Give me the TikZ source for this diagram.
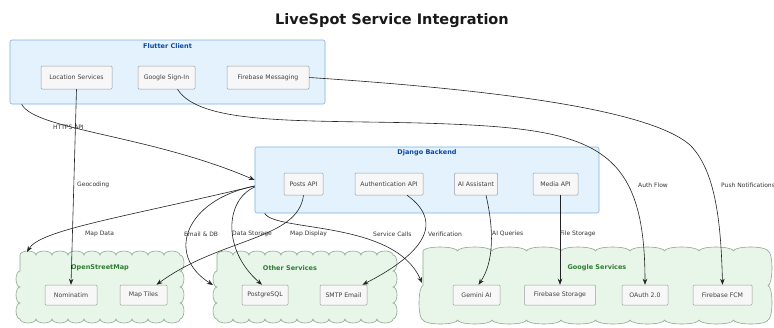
\documentclass[tikz,border=0pt]{standalone}
\usepackage{fontspec}
\setmainfont{DejaVu Sans}
\usetikzlibrary{arrows.meta,decorations.pathmorphing,calc}
\definecolor{clfill}{HTML}{E3F2FD}
\definecolor{cldraw}{HTML}{7FB3E6}
\definecolor{cltext}{HTML}{0D47A1}
\definecolor{ndfill}{HTML}{F7F7F7}
\definecolor{nddraw}{HTML}{9E9E9E}
\definecolor{cdfill}{HTML}{E8F5E9}
\definecolor{cddraw}{HTML}{8FA88F}
\definecolor{cdtext}{HTML}{2E7D32}
\definecolor{edge}{HTML}{222222}
\tikzset{
  cluster/.style={draw=cldraw, fill=clfill, rounded corners=2pt, line width=0.6pt, inner sep=0pt},
  cltitle/.style={font=\fontsize{6.5}{7}\selectfont\bfseries, text=cltext, inner sep=0pt},
  cdtitle/.style={font=\fontsize{6.5}{7}\selectfont\bfseries, text=cdtext, inner sep=0pt},
  svc/.style={draw=nddraw, fill=ndfill, rounded corners=1pt, line width=0.5pt, minimum height=23pt, inner sep=0pt, font=\fontsize{6.2}{7}\selectfont, text=black!75},
  lowsvc/.style={svc, minimum height=20pt},
  cloudbox/.style={draw=cddraw, fill=cdfill, line width=0.6pt, decorate, decoration={bumps, segment length=#1, amplitude=4pt}},
  arr/.style={draw=edge, line width=0.6pt, -{Stealth[length=6pt,width=4.5pt]}},
  lbl/.style={font=\fontsize{6}{6.5}\selectfont, text=black!80, anchor=west, inner sep=0pt},
}
\begin{document}
\begin{tikzpicture}[x=1pt,y=-1pt]
\useasboundingbox (0,0) rectangle (774,327);
\fill[white] (0,0) rectangle (774,327);

\node[font=\fontsize{14.5}{16}\selectfont\bfseries, text=black!90] (title) at (392,21) {LiveSpot Service Integration};

% Flutter client
\node[cluster, minimum width=315pt, minimum height=64pt] (flutter) at (167.5,72) {};
\node[cltitle] (flutterT) at (167.5,46) {Flutter Client};
\node[svc, minimum width=71pt] (loc) at (76.5,77.5) {Location Services};
\node[svc, minimum width=57pt] (gsi) at (166.5,77.5) {Google Sign-In};
\node[svc, minimum width=82pt] (fm) at (268,77.5) {Firebase Messaging};

% Django backend
\node[cluster, minimum width=344pt, minimum height=66pt] (django) at (427,180) {};
\node[cltitle] (djangoT) at (427,153) {Django Backend};
\node[svc, minimum width=39pt, minimum height=22pt] (posts) at (303.5,184) {Posts API};
\node[svc, minimum width=68pt, minimum height=22pt] (auth) at (389,184) {Authentication API};
\node[svc, minimum width=43pt, minimum height=22pt] (ai) at (476,184) {AI Assistant};
\node[svc, minimum width=45pt, minimum height=22pt] (media) at (555.5,184) {Media API};

% clouds
\path[cloudbox=32pt] (20,255) -- (180,255) -- (180,319) -- (20,319) -- cycle;
\path[cloudbox=32pt] (217,255) -- (393,255) -- (393,319) -- (217,319) -- cycle;
\path[cloudbox=69pt] (423,251) -- (768,251) -- (768,320) -- (423,320) -- cycle;
\coordinate (osmnw) at (27,252);
\coordinate (otherw) at (213,285);
\coordinate (googw) at (422,283);

\node[cdtitle] (osmT) at (100,268) {OpenStreetMap};
\node[cdtitle] (otherT) at (290,268) {Other Services};
\node[cdtitle] (googT) at (597,268) {Google Services};

\node[lowsvc, minimum width=52pt] (nom) at (71,295) {Nominatim};
\node[lowsvc, minimum width=47pt] (tiles) at (143.5,295) {Map Tiles};
\node[lowsvc, minimum width=46pt] (pg) at (265,295) {PostgreSQL};
\node[lowsvc, minimum width=47pt] (smtp) at (343.5,295) {SMTP Email};
\node[lowsvc, minimum width=47pt] (gem) at (476.5,295) {Gemini AI};
\node[lowsvc, minimum width=71pt] (fs) at (560,295) {Firebase Storage};
\node[lowsvc, minimum width=46pt] (oauth) at (645,295) {OAuth 2.0};
\node[lowsvc, minimum width=59pt] (fcm) at (722.5,295) {Firebase FCM};

% edges
\draw[arr] ([xshift=12pt]flutter.south west) .. controls (35,130) and (150,135) .. (django.west);
\draw[arr] (loc.south) -- (nom.north);
\draw[arr] ([xshift=11pt]gsi.south) .. controls (200,125) and (300,120) .. (420,123) .. controls (590,128) and (645,140) .. (oauth.north);
\draw[arr] (fm.east) .. controls (500,90) and (650,110) .. (690,145) .. controls (715,170) and (721,220) .. (fcm.north);
\draw[arr] ($(django.west)+(0,6)$) .. controls (120,218) and (40,230) .. (osmnw);
\draw[arr] ($(django.west)+(0,6)$) .. controls (185,200) and (165,255) .. (otherw);
\draw[arr] ($(django.west)+(0,7)$) .. controls (225,200) and (222,250) .. ([xshift=-3pt]pg.north);
\draw[arr] (posts.south) .. controls (298,240) and (220,238) .. ([xshift=13pt]tiles.north);
\draw[arr] ([xshift=10pt]django.south west) .. controls (275,232) and (395,220) .. (googw);
\draw[arr] ([xshift=18pt]auth.south) .. controls (435,215) and (440,245) .. ([xshift=19pt]smtp.north);
\draw[arr] ([xshift=10pt]ai.south) .. controls (494,230) and (494,262) .. ([xshift=2pt]gem.north);
\draw[arr] (media.south -| fs.north) -- (fs.north);

% edge labels
\node[lbl] (lHttps) at (53,127) {HTTPS API};
\node[lbl] (lGeo) at (77,185) {Geocoding};
\node[lbl] (lAuthF) at (638,185) {Auth Flow};
\node[lbl] (lPush) at (721,185) {Push Notifications};
\node[lbl] (lMapData) at (85,234) {Map Data};
\node[lbl] (lEmail) at (184,234) {Email \& DB};
\node[lbl] (lData) at (232,234) {Data Storage};
\node[lbl] (lMapDisp) at (290,234) {Map Display};
\node[lbl] (lSvc) at (373,234) {Service Calls};
\node[lbl] (lVer) at (428,234) {Verification};
\node[lbl] (lAIQ) at (492,234) {AI Queries};
\node[lbl] (lFile) at (560,234) {File Storage};
\end{tikzpicture}
\end{document}
